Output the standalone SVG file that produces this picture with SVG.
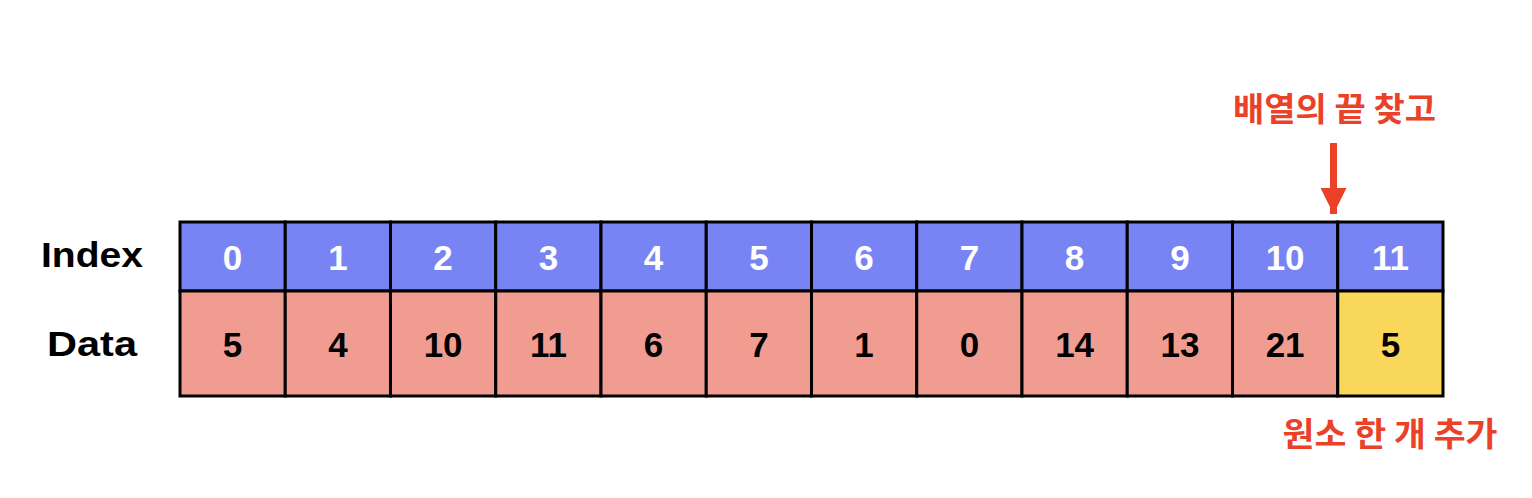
<svg xmlns="http://www.w3.org/2000/svg" width="1532" height="498" viewBox="0 0 1532 498">
<style>
.idx{fill:#7884F4;stroke:#000;stroke-width:3}
.dat{fill:#F19C91;stroke:#000;stroke-width:3}
.new{fill:#F9D75B;stroke:#000;stroke-width:3}
.num{font-family:"Liberation Sans",Arial,sans-serif;font-weight:bold;font-size:35px;text-anchor:middle}
.w{fill:#fff}
.b{fill:#000}
.lbl{font-family:"Liberation Sans",Arial,sans-serif;font-weight:bold;font-size:35px;text-anchor:middle;fill:#000}
.kr{font-family:"Noto Sans CJK KR","Noto Sans",sans-serif;font-weight:bold;font-size:33px;text-anchor:middle;fill:#EA4128}
</style>
<defs>
<marker id="ah" markerUnits="userSpaceOnUse" markerWidth="26" markerHeight="26" refX="26" refY="13" orient="auto">
<path d="M0,0 L26,13 L0,26 Z" fill="#EA4128"/>
</marker>
</defs>
<rect width="1532" height="498" fill="#fff"/>
<g id="labels">
<text class="lbl" x="92" y="266.5" textLength="102" lengthAdjust="spacingAndGlyphs">Index</text>
<text class="lbl" x="92" y="356" textLength="90" lengthAdjust="spacingAndGlyphs">Data</text>
</g>
<g id="cell0"><rect class="idx" x="180" y="222" width="105.25" height="69"/><rect class="dat" x="180" y="291" width="105.25" height="105"/><text class="num w" x="232.6" y="270">0</text><text class="num b" x="232.6" y="357">5</text></g>
<g id="cell1"><rect class="idx" x="285.25" y="222" width="105.25" height="69"/><rect class="dat" x="285.25" y="291" width="105.25" height="105"/><text class="num w" x="337.9" y="270">1</text><text class="num b" x="337.9" y="357">4</text></g>
<g id="cell2"><rect class="idx" x="390.5" y="222" width="105.25" height="69"/><rect class="dat" x="390.5" y="291" width="105.25" height="105"/><text class="num w" x="443.1" y="270">2</text><text class="num b" x="443.1" y="357">10</text></g>
<g id="cell3"><rect class="idx" x="495.75" y="222" width="105.25" height="69"/><rect class="dat" x="495.75" y="291" width="105.25" height="105"/><text class="num w" x="548.4" y="270">3</text><text class="num b" x="548.4" y="357">11</text></g>
<g id="cell4"><rect class="idx" x="601" y="222" width="105.25" height="69"/><rect class="dat" x="601" y="291" width="105.25" height="105"/><text class="num w" x="653.6" y="270">4</text><text class="num b" x="653.6" y="357">6</text></g>
<g id="cell5"><rect class="idx" x="706.25" y="222" width="105.25" height="69"/><rect class="dat" x="706.25" y="291" width="105.25" height="105"/><text class="num w" x="758.9" y="270">5</text><text class="num b" x="758.9" y="357">7</text></g>
<g id="cell6"><rect class="idx" x="811.5" y="222" width="105.25" height="69"/><rect class="dat" x="811.5" y="291" width="105.25" height="105"/><text class="num w" x="864.1" y="270">6</text><text class="num b" x="864.1" y="357">1</text></g>
<g id="cell7"><rect class="idx" x="916.75" y="222" width="105.25" height="69"/><rect class="dat" x="916.75" y="291" width="105.25" height="105"/><text class="num w" x="969.4" y="270">7</text><text class="num b" x="969.4" y="357">0</text></g>
<g id="cell8"><rect class="idx" x="1022" y="222" width="105.25" height="69"/><rect class="dat" x="1022" y="291" width="105.25" height="105"/><text class="num w" x="1074.6" y="270">8</text><text class="num b" x="1074.6" y="357">14</text></g>
<g id="cell9"><rect class="idx" x="1127.25" y="222" width="105.25" height="69"/><rect class="dat" x="1127.25" y="291" width="105.25" height="105"/><text class="num w" x="1179.9" y="270">9</text><text class="num b" x="1179.9" y="357">13</text></g>
<g id="cell10"><rect class="idx" x="1232.5" y="222" width="105.25" height="69"/><rect class="dat" x="1232.5" y="291" width="105.25" height="105"/><text class="num w" x="1285.1" y="270">10</text><text class="num b" x="1285.1" y="357">21</text></g>
<g id="cell11"><rect class="idx" x="1337.75" y="222" width="105.25" height="69"/><rect class="new" x="1337.75" y="291" width="105.25" height="105"/><text class="num w" x="1390.4" y="270">11</text><text class="num b" x="1390.4" y="357">5</text></g>
<g id="note-top"><text class="kr" x="1334.5" y="121" textLength="203" lengthAdjust="spacingAndGlyphs">배열의 끝 찾고</text></g>
<g id="note-bottom"><text class="kr" x="1390" y="446" textLength="215" lengthAdjust="spacingAndGlyphs">원소 한 개 추가</text></g>
<g id="connectors">
<path d="M1333.5,143 L1333.5,214" stroke="#EA4128" stroke-width="7" fill="none" marker-end="url(#ah)"/>
</g>
</svg>
